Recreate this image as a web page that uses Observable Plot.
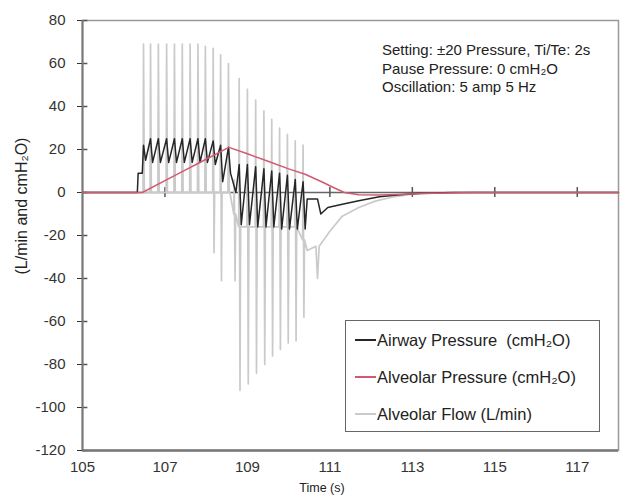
<!DOCTYPE html>
<html><head><meta charset="utf-8">
<script src="https://cdn.jsdelivr.net/npm/d3@7"></script>
<script src="https://cdn.jsdelivr.net/npm/@observablehq/plot@0.6"></script>
<style>
body{margin:0;background:#fff;font-family:"Liberation Sans",Arial,sans-serif;}
#wrap{position:relative;width:622px;height:498px;overflow:hidden;}
#legend{position:absolute;left:345px;top:320px;width:255px;height:112px;border:1px solid #666;background:#fff;box-sizing:border-box;color:#222;font-size:16.5px;}
.row{position:absolute;left:0;height:20px;line-height:20px;white-space:pre;}
.row .sw{position:absolute;left:9px;top:9px;width:21px;height:1.6px;}
.row .tx{position:absolute;left:31px;top:0;}
</style></head>
<body><div id="wrap"></div>
<script>
// axis ticks
const xTicks = [105, 107, 109, 111, 113, 115, 117];
const yTicks = [-120, -100, -80, -60, -40, -20, 0, 20, 40, 60, 80];

// Alveolar pressure (cmH2O)
const alvT = [105, 106.45, 107.0, 107.5, 107.8, 108.1, 108.35, 108.55, 109.0, 109.5, 110.0, 110.4, 110.8, 111.1, 111.35, 111.7, 112.2, 112.8, 113.5, 114.5, 118];
const alvP = [0, 0, 5.5, 10.5, 13.5, 16.5, 19, 21, 18, 14.5, 11, 8.5, 5, 2.2, 0, -1, -1.2, -0.8, -0.3, 0, 0];

// Airway pressure (cmH2O)
const awLeadT = [105, 106.33, 106.35, 106.45];
const awLeadP = [0, 0, 9, 9];
const awInT  = [106.48, 106.65, 106.84, 107.04, 107.23, 107.42, 107.61, 107.80, 107.98, 108.17, 108.35, 108.54];
const awInHi = [22, 25, 25, 25, 25, 25, 25, 25, 25, 24, 22, 21];
const awInLo = [15, 14, 14, 14, 14, 14, 14, 14, 14, 13, 5, 9];
const awExT  = [108.80, 109.00, 109.20, 109.40, 109.59, 109.78, 109.97, 110.16, 110.35];
const awExHi = [13, 13, 12, 11, 10, 9, 8, 6, 5];
const awExLo = [-15, -15, -16, -16, -16, -17, -17, -17, -17];
const awTrailT = [110.45, 110.70, 110.78, 110.95, 111.3, 111.7, 112.2, 112.7, 113.2, 114, 118];
const awTrailP = [-3, -3, -10, -7, -5.5, -3.8, -2, -1, -0.3, 0, 0];

// Alveolar flow (L/min)
const flLeadT = [105, 106.44];
const flLeadV = [0, 0];
const flInT    = [106.48, 106.65, 106.84, 107.04, 107.23, 107.42, 107.61, 107.80, 107.98, 108.17, 108.35, 108.54, 108.68];
const flInHi   = [69, 69, 69, 69, 69, 69, 69, 69, 68, 67, 64, 60, 6];
const flInLo   = [0, 0, 0, 0, 0, 0, 0, 0, 0, -28, -41, 0, -41];
const flInBase = [0, 0, 0, 0, 0, 0, 0, 0, 0, 0, 0, 0, -10];
const flExT    = [108.80, 109.00, 109.20, 109.40, 109.59, 109.78, 109.97, 110.16, 110.35];
const flExHi   = [53, 48, 43, 38, 34, 30, 27, 24, 22];
const flExLo   = [-92, -89, -84, -80, -76, -73, -70, -69, -58];
const flExBase = [-16, -16, -16, -16, -16, -16, -16, -16, -22];
const flTrailT = [110.45, 110.66, 110.70, 110.74, 111.0, 111.3, 111.7, 112.1, 112.5, 113.0, 113.6, 118];
const flTrailV = [-27, -25, -40, -25, -18, -11, -7, -4, -2.2, -0.8, 0, 0];

// build tables
const pairs = (ts, vs) => ts.map((t, i) => ({t, v: vs[i]}));
function spikeRows(ts, hi, lo, base) {
  const out = [];
  ts.forEach((t, i) => {
    out.push({t: t - 0.012, v: base[i]}, {t, v: hi[i]}, {t: t + 0.02, v: lo[i]}, {t: t + 0.035, v: base[i]});
  });
  return out;
}
function sawRows(ts, hi, lo) {
  const out = [];
  ts.forEach((t, i) => { out.push({t, v: hi[i]}, {t: t + 0.05, v: lo[i]}); });
  return out;
}
const flow = [...pairs(flLeadT, flLeadV), ...spikeRows(flInT, flInHi, flInLo, flInBase), ...spikeRows(flExT, flExHi, flExLo, flExBase), ...pairs(flTrailT, flTrailV)];
const airway = [...pairs(awLeadT, awLeadP), ...sawRows(awInT, awInHi, awInLo), {t: 108.72, v: 0}, ...sawRows(awExT, awExHi, awExLo), ...pairs(awTrailT, awTrailP)];
const alveolar = pairs(alvT, alvP);

const cBlack = "#262626", cRed = "#d25a70", cGray = "#cacaca";

const chart = Plot.plot({
  width: 622, height: 498,
  marginLeft: 82, marginRight: 4, marginTop: 20, marginBottom: 48,
  x: {domain: [105, 118]},
  y: {domain: [-120, 80]},
  style: {fontFamily: "'Liberation Sans', Arial, sans-serif", fontSize: "15px", color: "#222", background: "#fff"},
  marks: [
    Plot.frame({stroke: "#999", strokeWidth: 1.5}),
    Plot.ruleY([0], {stroke: "#666", strokeWidth: 1.5}),
    Plot.ruleX(xTicks.slice(1), {y1: -2.3, y2: 2.3, stroke: "#555", strokeWidth: 1.5}),
    Plot.ruleY(yTicks, {x1: 105, x2: 105.13, stroke: "#555", strokeWidth: 1.5}),
    Plot.axisY({ticks: yTicks, tickSize: 5, tickPadding: 12, tickFormat: d => String(d), label: null, color: "#333"}),
    Plot.axisX({ticks: xTicks, tickSize: 0, tickPadding: 11, tickFormat: d => String(d), label: null, color: "#333"}),
    Plot.line(flow, {x: "t", y: "v", stroke: cGray, strokeWidth: 1.7}),
    Plot.line(airway, {x: "t", y: "v", stroke: cBlack, strokeWidth: 1.5}),
    Plot.line(alveolar, {x: "t", y: "v", stroke: cRed, strokeWidth: 1.5}),
    Plot.ruleX([105], {stroke: "#777", strokeWidth: 2}),
    Plot.ruleY([-120], {stroke: "#777", strokeWidth: 2.5})
  ]
});
document.getElementById("wrap").appendChild(chart);

const svg = d3.select(chart);
const ff = "'Liberation Sans', Arial, sans-serif";
// annotation
const notes = ["Setting: ±20 Pressure, Ti/Te: 2s", "Pause Pressure: 0 cmH₂O", "Oscillation: 5 amp 5 Hz"];
notes.forEach((s, i) => {
  svg.append("text").attr("x", 382).attr("y", 55 + i * 18.5).attr("text-anchor", "start")
    .attr("font-family", ff).attr("font-size", 15).attr("fill", "#222").text(s);
});
// axis titles
svg.append("text").attr("transform", "translate(27,206) rotate(-90)").attr("text-anchor", "middle")
  .attr("font-family", ff).attr("font-size", 16).attr("fill", "#222").text("(L/min and cmH₂O)");
svg.append("text").attr("x", 322).attr("y", 492).attr("text-anchor", "middle")
  .attr("font-family", ff).attr("font-size", 12.5).attr("fill", "#222").text("Time (s)");

// legend
const legendItems = [
  {label: "Airway Pressure  (cmH₂O)", color: cBlack},
  {label: "Alveolar Pressure (cmH₂O)", color: cRed},
  {label: "Alveolar Flow (L/min)", color: cGray}
];
const lg = document.createElement("div");
lg.id = "legend";
legendItems.forEach((it, i) => {
  const r = document.createElement("div");
  r.className = "row";
  r.style.top = (9 + i * 37) + "px";
  r.style.width = "250px";
  const sw = document.createElement("span");
  sw.className = "sw";
  sw.style.backgroundColor = it.color;
  const tx = document.createElement("span");
  tx.className = "tx";
  tx.textContent = it.label;
  r.appendChild(sw);
  r.appendChild(tx);
  lg.appendChild(r);
});
document.getElementById("wrap").appendChild(lg);
</script>
</body></html>
